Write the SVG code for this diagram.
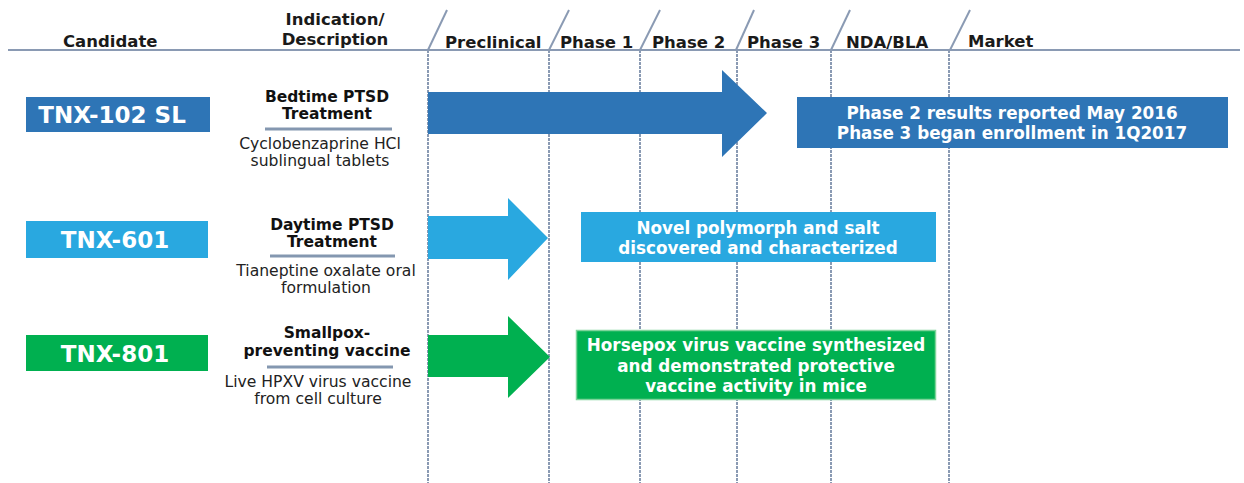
<svg xmlns="http://www.w3.org/2000/svg" width="1244" height="483" viewBox="0 0 1244 483">
<style>
.h{font-family:"DejaVu Sans",Verdana,sans-serif;font-weight:bold;font-size:16.5px;fill:#1a1a1a}
.ind{font-family:"DejaVu Sans",Verdana,sans-serif;font-weight:bold;font-size:15.5px;fill:#111;text-anchor:middle}
.desc{font-family:"DejaVu Sans",Verdana,sans-serif;font-size:15.6px;fill:#222;text-anchor:middle}
.cand{font-family:"DejaVu Sans",Verdana,sans-serif;font-weight:bold;font-size:23px;fill:#fff;text-anchor:middle}
.note{font-family:"DejaVu Sans",Verdana,sans-serif;font-weight:bold;font-size:16.8px;fill:#fff;text-anchor:middle}
.grid{stroke:#8a9ab3;stroke-width:2;fill:none}
.vline{stroke:#8a9ab3;stroke-width:2;stroke-dasharray:3 1;fill:none}
.ul{stroke:#8497b0;stroke-width:3}
</style>
<rect width="1244" height="483" fill="#fff"/>
<g id="grid">
<line class="grid" x1="8" y1="50" x2="1240" y2="50" stroke-width="3"/>
<line class="grid" x1="428" y1="50" x2="447" y2="10"/>
<line class="grid" x1="549" y1="50" x2="569" y2="10"/>
<line class="grid" x1="640" y1="50" x2="660" y2="10"/>
<line class="grid" x1="736" y1="50" x2="754" y2="10"/>
<line class="grid" x1="831" y1="50" x2="850" y2="10"/>
<line class="grid" x1="950" y1="50" x2="970" y2="10"/>
<line class="vline" x1="428" y1="50" x2="428" y2="483"/>
<line class="vline" x1="549" y1="50" x2="549" y2="483"/>
<line class="vline" x1="640" y1="50" x2="640" y2="483"/>
<line class="vline" x1="737" y1="50" x2="737" y2="483"/>
<line class="vline" x1="831" y1="50" x2="831" y2="483"/>
<line class="vline" x1="949" y1="50" x2="949" y2="483"/>
</g>
<g id="header">
<text class="h" x="63" y="47">Candidate</text>
<text class="h" x="335" y="25" text-anchor="middle">Indication/</text>
<text class="h" x="335" y="45" text-anchor="middle">Description</text>
<text class="h" x="445" y="48">Preclinical</text>
<text class="h" x="560" y="48">Phase 1</text>
<text class="h" x="652" y="48">Phase 2</text>
<text class="h" x="747" y="48">Phase 3</text>
<text class="h" x="846" y="48">NDA/BLA</text>
<text class="h" x="968" y="47">Market</text>
</g>
<g id="row1">
<rect x="26" y="97" width="184" height="35" fill="#2e75b6"/>
<text class="cand" x="112" y="123">TNX-102 SL</text>
<text class="ind" x="327" y="102">Bedtime PTSD</text>
<text class="ind" x="327" y="119">Treatment</text>
<line class="ul" x1="265" y1="129" x2="392" y2="129"/>
<text class="desc" x="320" y="149">Cyclobenzaprine HCl</text>
<text class="desc" x="320" y="166">sublingual tablets</text>
</g>
<g id="row2">
<rect x="26" y="221" width="182" height="37" fill="#29a8e0"/>
<text class="cand" x="115" y="248">TNX-601</text>
<text class="ind" x="332" y="230">Daytime PTSD</text>
<text class="ind" x="332" y="247">Treatment</text>
<line class="ul" x1="270" y1="256" x2="395" y2="256"/>
<text class="desc" x="326" y="276">Tianeptine oxalate oral</text>
<text class="desc" x="326" y="293">formulation</text>
</g>
<g id="row3">
<rect x="26" y="335" width="182" height="36" fill="#00b050"/>
<text class="cand" x="115" y="362">TNX-801</text>
<text class="ind" x="327" y="338">Smallpox-</text>
<text class="ind" x="327" y="356">preventing vaccine</text>
<line class="ul" x1="267" y1="367" x2="393" y2="367"/>
<text class="desc" x="318" y="387">Live HPXV virus vaccine</text>
<text class="desc" x="318" y="404">from cell culture</text>
</g>
<g id="connectors">
<polygon points="428,92 722,92 722,70 767,113 722,157 722,134 428,134" fill="#2e75b6"/>
<polygon points="428,216 508,216 508,198 548,238 508,280 508,259 428,259" fill="#29a8e0"/>
<polygon points="428,335 508,335 508,316 550,357 508,398 508,377 428,377" fill="#00b050"/>
</g>
<g id="note1">
<rect x="797" y="97" width="431" height="51" fill="#2e75b6"/>
<text class="note" x="1012" y="119">Phase 2 results reported May 2016</text>
<text class="note" x="1012" y="139">Phase 3 began enrollment in 1Q2017</text>
</g>
<g id="note2">
<rect x="581" y="212" width="355" height="50" fill="#29a8e0"/>
<text class="note" x="758" y="234">Novel polymorph and salt</text>
<text class="note" x="758" y="254">discovered and characterized</text>
</g>
<g id="note3">
<rect x="576.5" y="330.5" width="359" height="69" fill="#00b050" stroke="#7fd49b" stroke-width="1.5"/>
<text class="note" x="756" y="351">Horsepox virus vaccine synthesized</text>
<text class="note" x="756" y="372">and demonstrated protective</text>
<text class="note" x="756" y="392">vaccine activity in mice</text>
</g>
</svg>
